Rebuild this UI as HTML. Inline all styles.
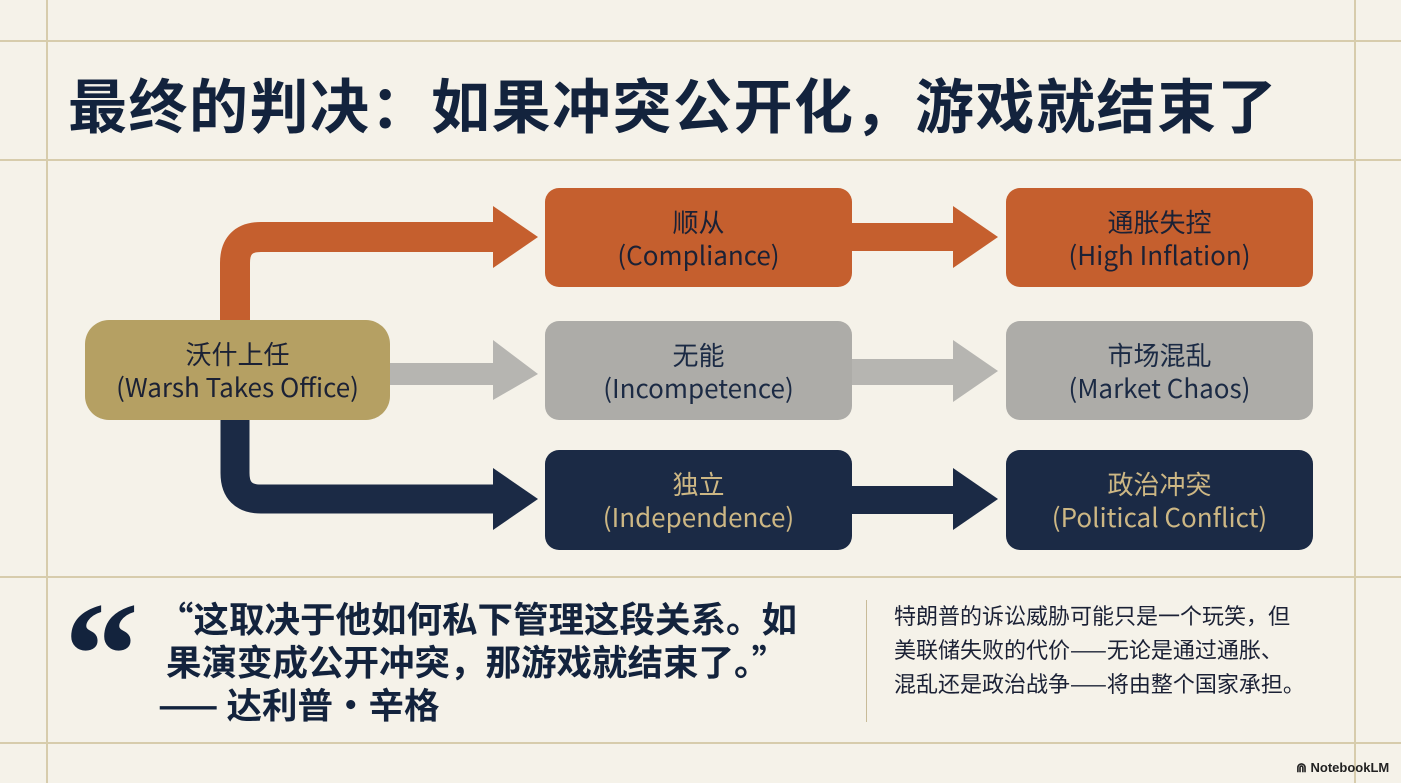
<!DOCTYPE html>
<html><head><meta charset="utf-8"><style>
html,body{margin:0;padding:0}
body{width:1401px;height:783px;background:#f5f2e9;position:relative;overflow:hidden;font-family:"Liberation Sans","Noto Sans CJK SC",sans-serif}
.vl{position:absolute;top:0;bottom:0;width:2px;background:#d7ccac}
.hl{position:absolute;left:0;right:0;height:2px;background:#d7ccac}
.title{position:absolute;left:68px;top:60px;font-size:59px;font-weight:bold;color:#13233d;letter-spacing:1.5px;font-family:"Noto Sans CJK SC",sans-serif;white-space:nowrap}
.box{position:absolute;border-radius:14px;box-sizing:border-box;text-align:center;font-size:26px;line-height:33px;font-family:"Noto Sans CJK SC","Liberation Sans",sans-serif;padding-top:17px}
.o{background:#c55f2e;color:#1b2135}.g{background:#adaca8;color:#1b2a44}.n{background:#1b2a45;color:#cdb784}
.q{position:absolute;font-family:"Noto Sans CJK SC",sans-serif;color:#13233d;font-weight:bold;white-space:nowrap}
</style></head><body>
<div class="vl" style="left:46px"></div><div class="vl" style="left:1354px"></div>
<div class="hl" style="top:40px"></div><div class="hl" style="top:159px"></div>
<div class="hl" style="top:576px"></div><div class="hl" style="top:742px"></div>
<div class="title">最终的判决：如果冲突公开化，游戏就结束了</div>
<svg width="1401" height="783" style="position:absolute;left:0;top:0">
<path d="M235 330 V263 Q235 237 261 237 H495" fill="none" stroke="#c55f2e" stroke-width="30"/>
<polygon points="493,206 538,237 493,268" fill="#c55f2e"/>
<path d="M235 410 V473 Q235 499 261 499 H495" fill="none" stroke="#1b2a45" stroke-width="29"/>
<polygon points="493,468 538,499 493,530" fill="#1b2a45"/>
<rect x="385" y="363" width="112" height="22" fill="#b6b5b1"/>
<polygon points="493,340 538,374 493,400" fill="#b6b5b1"/>
<rect x="848" y="223" width="108" height="28" fill="#c55f2e"/>
<polygon points="953,206 998,237 953,268" fill="#c55f2e"/>
<rect x="848" y="359" width="108" height="26" fill="#b6b5b1"/>
<polygon points="953,340 998,371 953,402" fill="#b6b5b1"/>
<rect x="848" y="486" width="108" height="28" fill="#1b2a45"/>
<polygon points="953,468 998,499 953,530" fill="#1b2a45"/>
</svg>
<div class="box" style="left:85px;top:320px;width:305px;height:100px;background:#b5a063;color:#1b2135;border-radius:24px">沃什上任<br>(Warsh Takes Office)</div>
<div class="box o" style="left:545px;top:188px;width:307px;height:99px">顺从<br>(Compliance)</div>
<div class="box g" style="left:545px;top:321px;width:307px;height:99px">无能<br>(Incompetence)</div>
<div class="box n" style="left:545px;top:450px;width:307px;height:100px">独立<br>(Independence)</div>
<div class="box o" style="left:1006px;top:188px;width:307px;height:99px">通胀失控<br>(High Inflation)</div>
<div class="box g" style="left:1006px;top:321px;width:307px;height:99px">市场混乱<br>(Market Chaos)</div>
<div class="box n" style="left:1006px;top:450px;width:307px;height:100px">政治冲突<br>(Political Conflict)</div>
<div class="q" style="left:64px;top:570px;font-size:150px;line-height:170px;font-family:'Liberation Serif',serif">“</div>
<div class="q" style="left:158px;top:596px;font-size:35.5px;line-height:43px">“这取决于他如何私下管理这段关系。如<br>&nbsp;果演变成公开冲突，那游戏就结束了。”<br>—— 达利普·辛格</div>
<div style="position:absolute;left:866px;top:600px;width:1px;height:122px;background:#c8bb98"></div>
<div class="q" style="left:894px;top:598px;font-size:22px;line-height:34px;font-weight:normal;color:#1b2135">特朗普的诉讼威胁可能只是一个玩笑，但<br>美联储失败的代价——无论是通过通胀、<br>混乱还是政治战争——将由整个国家承担。</div>
<div style="position:absolute;left:1296px;top:760px;font-size:13px;color:#222;font-weight:bold">⋒ NotebookLM</div>
</body></html>
